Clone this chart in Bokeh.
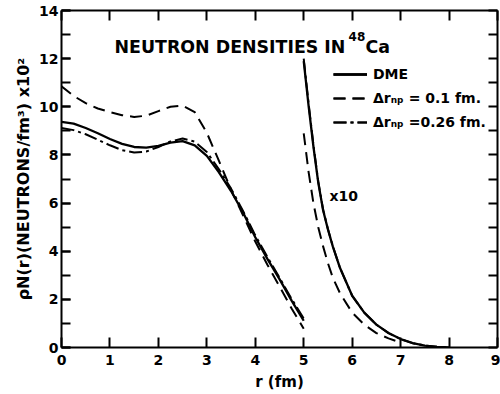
import math
from bokeh.plotting import figure
from bokeh.models import (Range1d, LinearAxis, SingleIntervalTicker, Label,
                          Legend, LegendItem, CustomLabelingPolicy)
from bokeh.embed import file_html
from bokeh.resources import INLINE

# ---------------- data ----------------
# interior region, r in fm, density x 10^2
r_inner = [0.0, 0.25, 0.5, 0.75, 1.0, 1.25, 1.5, 1.75, 2.0, 2.25, 2.5,
           2.75, 3.0, 3.25, 3.5, 3.75, 4.0, 4.25, 4.5, 4.75, 5.0]
dme_inner = [9.37, 9.30, 9.12, 8.90, 8.66, 8.46, 8.33, 8.30, 8.38, 8.51, 8.57,
             8.40, 7.96, 7.28, 6.50, 5.60, 4.58, 3.68, 2.84, 1.95, 1.11]
np01_inner = [10.85, 10.45, 10.15, 9.93, 9.78, 9.65, 9.58, 9.63, 9.82, 10.00, 10.05,
              9.78, 8.92, 7.75, 6.55, 5.48, 4.40, 3.44, 2.54, 1.62, 0.78]
np026_inner = [9.12, 9.03, 8.86, 8.63, 8.40, 8.20, 8.10, 8.14, 8.33, 8.56, 8.68,
               8.55, 8.12, 7.40, 6.60, 5.66, 4.66, 3.76, 2.90, 2.02, 1.20]

# surface region, magnified x10
r_outer = [5.0, 5.1, 5.2, 5.3, 5.4, 5.5, 5.6, 5.75, 6.0, 6.25, 6.5, 6.75,
           7.0, 7.25, 7.5, 7.75, 8.0]
dme_outer = [11.9, 10.05, 8.35, 6.85, 5.7, 4.9, 4.2, 3.3, 2.15, 1.45, 0.95, 0.6,
             0.35, 0.18, 0.08, 0.03, 0.0]
np026_outer = [12.0, 10.15, 8.42, 6.9, 5.73, 4.92, 4.21, 3.3, 2.15, 1.45, 0.95, 0.6,
               0.35, 0.18, 0.08, 0.03, 0.0]
r_outer01 = [5.0, 5.1, 5.2, 5.3, 5.4, 5.5, 5.6, 5.75, 6.0, 6.25, 6.5, 6.75, 7.0]
np01_outer = [8.9, 7.3, 6.0, 5.0, 4.2, 3.5, 2.9, 2.25, 1.45, 0.95, 0.6, 0.38, 0.2]

x_tick_interval = 1
y_tick_interval = 2

FONT = "DejaVu Sans"

# ---------------- figure ----------------
p = figure(width=500, height=394, x_range=Range1d(0, 9), y_range=Range1d(0, 14),
           output_backend="svg", toolbar_location=None,
           min_border_left=61, min_border_right=3, min_border_top=10,
           min_border_bottom=47)
p.outline_line_color = None
p.xgrid.visible = False
p.ygrid.visible = False
p.background_fill_color = "white"
p.border_fill_color = "white"

xa = p.xaxis[0]
xa.ticker = SingleIntervalTicker(interval=x_tick_interval, num_minor_ticks=0)
xa.axis_line_width = 2
xa.major_tick_in = 10
xa.major_tick_out = 0
xa.major_tick_line_width = 2
xa.minor_tick_line_color = None
xa.major_label_standoff = 7
xa.major_label_text_font = FONT
xa.major_label_text_font_style = "bold"
xa.major_label_text_font_size = "14px"
xa.major_label_text_color = "black"
xa.axis_label = "r (fm)"
xa.axis_label_text_font = FONT
xa.axis_label_text_font_style = "bold"
xa.axis_label_text_font_size = "15px"
xa.axis_label_text_color = "black"
xa.axis_label_standoff = 5

ya = p.yaxis[0]
ya.ticker = SingleIntervalTicker(interval=y_tick_interval, num_minor_ticks=2)
ya.axis_line_width = 2
ya.major_tick_in = 9
ya.major_tick_out = 0
ya.minor_tick_in = 9
ya.minor_tick_out = 0
ya.major_tick_line_width = 2
ya.minor_tick_line_width = 2
ya.minor_tick_line_color = "black"
ya.major_label_standoff = 3
ya.major_label_text_font = FONT
ya.major_label_text_font_style = "bold"
ya.major_label_text_font_size = "14px"
ya.major_label_text_color = "black"
ya.axis_label = "ρN(r)(NEUTRONS/fm³) x10²"
ya.axis_label_text_font = FONT
ya.axis_label_text_font_style = "bold"
ya.axis_label_text_font_size = "16px"
ya.axis_label_text_color = "black"
ya.axis_label_standoff = 3

hide_all = CustomLabelingPolicy(code="""
try { for (let i = 0; i < indices.size; i++) { indices.unset(i) } } catch (e) {}
return indices
""")
top = LinearAxis(ticker=SingleIntervalTicker(interval=1, num_minor_ticks=0),
                 axis_line_width=2, major_tick_in=10, major_tick_out=0,
                 major_tick_line_width=2, minor_tick_line_color=None,
                 major_label_text_font_size="0px", major_label_standoff=0,
                 major_label_policy=hide_all)
right = LinearAxis(ticker=SingleIntervalTicker(interval=1, num_minor_ticks=0),
                   axis_line_width=2, major_tick_in=9, major_tick_out=0,
                   major_tick_line_width=2, minor_tick_line_color=None,
                   major_label_text_font_size="0px", major_label_standoff=0,
                   major_label_policy=hide_all)
p.add_layout(top, "above")
p.add_layout(right, "right")

# ---------------- curves ----------------
DASH = "12 7"
DASHDOT = "13 4 3 4"
r026a = p.line(r_inner, np026_inner, line_color="black", line_width=2, line_dash=DASHDOT)
r026b = p.line(r_outer, np026_outer, line_color="black", line_width=2, line_dash=DASHDOT)
r01a = p.line(r_inner, np01_inner, line_color="black", line_width=2, line_dash=DASH)
r01b = p.line(r_outer01, np01_outer, line_color="black", line_width=2, line_dash=DASH)
rda = p.line(r_inner, dme_inner, line_color="black", line_width=2.3)
rdb = p.line(r_outer, dme_outer, line_color="black", line_width=2.3)

legend = Legend(items=[
    LegendItem(label="DME", renderers=[rda, rdb]),
    LegendItem(label="Δrₙₚ = 0.1 fm.", renderers=[r01a, r01b]),
    LegendItem(label="Δrₙₚ =0.26 fm.", renderers=[r026a, r026b]),
], location=(272, 215), padding=0, margin=0, spacing=4, glyph_width=34,
   glyph_height=20, label_height=20, label_standoff=6,
   border_line_color=None, background_fill_alpha=0,
   label_text_font=FONT, label_text_font_style="bold",
   label_text_font_size="14px", label_text_color="black")
p.add_layout(legend)


def X(px):
    return (px - 61) / 48.44


def Y(py):
    return (347 - py) / 24.07


def lab(x, y, text, size):
    p.add_layout(Label(x=x, y=y, text=text, text_font=FONT, text_font_style="bold",
                       text_font_size=size, text_align="left",
                       text_baseline="alphabetic", text_color="black"))


lab(X(114), Y(47), "NEUTRON DENSITIES IN", "17.4px")
lab(X(348), Y(36), "48", "12px")
lab(X(365), Y(47), "Ca", "17.4px")
lab(X(329), Y(196), "x10", "14px")

open("out.html", "w").write(file_html(p, INLINE))
